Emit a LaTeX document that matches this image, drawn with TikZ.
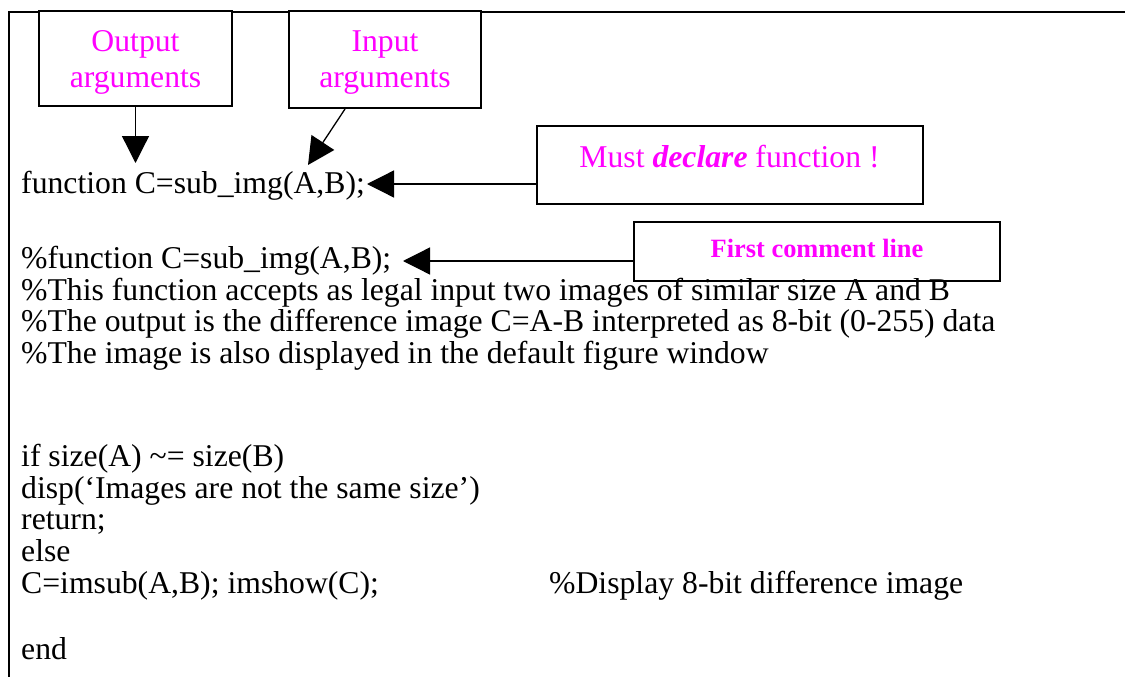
\documentclass[tikz,border=0pt]{standalone}
\usepackage{fontspec}
\setmainfont{Liberation Serif}
\usetikzlibrary{arrows.meta}
\definecolor{lblmag}{HTML}{FF00FF}
\tikzset{
  frameline/.style={line width=2pt},
  callout/.style={draw, line width=2pt, inner sep=0pt, fill=white},
  lbl/.style={text=lblmag, inner sep=0pt, anchor=base, font=\fontsize{31.7}{36}\selectfont},
  smalllbl/.style={text=lblmag, inner sep=0pt, anchor=base, font=\bfseries\fontsize{26.4}{30}\selectfont},
  code/.style={inner sep=0pt, anchor=base west, font=\fontsize{31.7}{31.6}\selectfont},
  pointer/.style={line width=1.3pt, -{Triangle[length=27pt,width=27pt]}}
}
\begin{document}
\begin{tikzpicture}[x=1pt,y=-1pt]
\useasboundingbox (0,0) rectangle (1125,677);
\fill[white] (0,0) rectangle (1125,677);
% frame
\draw[frameline] (1126,12) -- (9,12) -- (9,678);
% callout boxes
\node[callout, minimum width=193pt, minimum height=95pt] (out) at (135.5,58.5) {};
\node[lbl] (outa) at (135.5,52) {Output};
\node[lbl] (outb) at (135.5,88) {arguments};
\node[callout, minimum width=192pt, minimum height=97pt] (in) at (385,59.5) {};
\node[lbl] (ina) at (385,52) {Input};
\node[lbl] (inb) at (385,88) {arguments};
\node[callout, minimum width=386pt, minimum height=78pt] (must) at (730,165) {};
\node[lbl] (musttxt) at (729.5,167) {Must \textbf{\textit{declare}} function !};
\node[callout, minimum width=366pt, minimum height=59pt] (first) at (817,251.5) {};
\node[smalllbl] (firsttxt) at (817,257) {First comment line};
% code lines
\node[code] (l1) at (21,193) {function C=sub\_img(A,B);};
\node[code] (l2) at (21,268) {\%function C=sub\_img(A,B);};
\node[code] (l3) at (21,300) {\%This function accepts as legal input two images of similar size A and B};
\node[code] (l4) at (21,331) {\%The output is the difference image C=A-B interpreted as 8-bit (0-255) data};
\node[code] (l5) at (21,363) {\%The image is also displayed in the default figure window};
\node[code] (l6) at (21,466) {if size(A) \textasciitilde= size(B)};
\node[code] (l7) at (21,498) {disp(‘Images are not the same size’)};
\node[code] (l8) at (21,529) {return;};
\node[code] (l9) at (21,561) {else};
\node[code] (l10) at (21,593) {C=imsub(A,B); imshow(C);};
\node[code] (l10c) at (549,593) {\%Display 8-bit difference image};
\node[code] (l11) at (21,659) {end};
% pointer tips
\coordinate (tipO) at (135.5,163);
\coordinate (tipI) at (308,165);
\coordinate (tipF) at (367,184);
\coordinate (tipC) at (403,261);
% connectors
\draw[pointer] (out.south) -- (tipO);
\draw[pointer] ([xshift=-40pt]in.south) -- (tipI);
\draw[pointer] (must.west |- tipF) -- (tipF);
\draw[pointer] (first.west |- tipC) -- (tipC);
\end{tikzpicture}
\end{document}
